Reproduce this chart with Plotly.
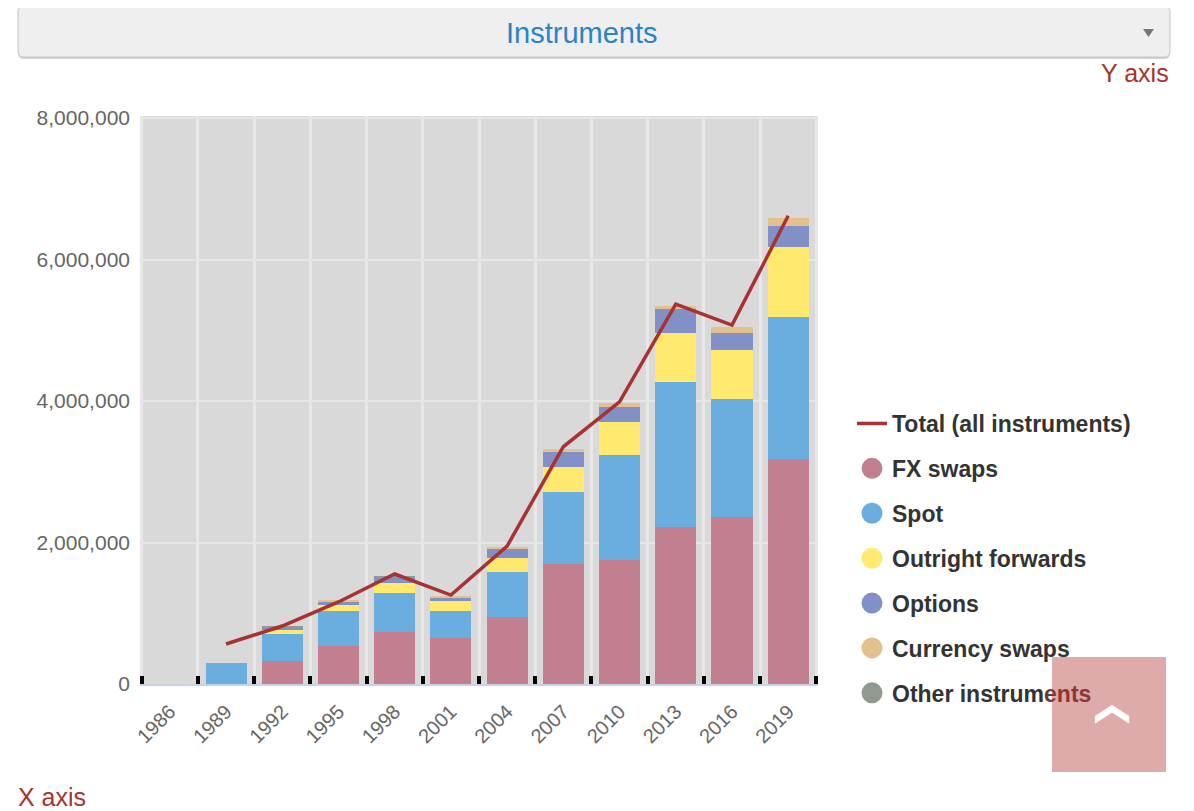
import plotly.graph_objects as go

years = ["1986", "1989", "1992", "1995", "1998", "2001", "2004", "2007", "2010", "2013", "2016", "2019"]
fx_swaps = [0, 0, 325000, 537000, 735000, 646000, 951000, 1696000, 1748000, 2215000, 2356000, 3176000]
spot = [0, 290000, 382000, 499000, 547000, 390000, 632000, 1013000, 1485000, 2058000, 1672000, 2007000]
outright_forwards = [0, 0, 56000, 81000, 141000, 137000, 193000, 362000, 466000, 693000, 689000, 989000]
options = [0, 0, 30000, 52000, 79000, 52000, 136000, 222000, 220000, 330000, 248000, 301000]
currency_swaps = [0, 0, 3000, 5000, 10000, 7000, 20000, 24000, 48000, 47000, 81000, 109000]
other_instruments = [0, 0, 30000, 0, 18000, 0, 0, 0, 0, 0, 0, 0]
total = [None, 565000, 820000, 1160000, 1555000, 1258000, 1950000, 3354000, 3990000, 5371000, 5074000, 6620000]
y_ticks = [0, 2000000, 4000000, 6000000, 8000000]

series = [
    ("FX swaps", fx_swaps, "#c27f8f"),
    ("Spot", spot, "#6aaee0"),
    ("Outright forwards", outright_forwards, "#ffe96e"),
    ("Options", options, "#8290c8"),
    ("Currency swaps", currency_swaps, "#e3c08c"),
    ("Other instruments", other_instruments, "#8f9a90"),
]
# legend labels (last one partly under the translucent scroll button)
legend_labels = {
    "Other instruments": "Other instrum<span style='color:#6e3434'>ents</span>",
}

FONT = "Liberation Sans, Arial, Helvetica, sans-serif"
OFF = 8  # page body margin
FW, FH = 1194 - OFF, 811 - OFF
L, R, T, B = 140 - OFF, 818 - OFF, 116 - OFF, 684 - OFF
W, H = R - L, B - T


def px(x):
    # x in screen pixels
    return (x - OFF - L) / W


def py(y):
    return (B - (y - OFF)) / H


def rrect(x0, y0, x1, y1, r):
    return (f"M {px(x0 + r)},{py(y0)} L {px(x1 - r)},{py(y0)} Q {px(x1)},{py(y0)} {px(x1)},{py(y0 + r)} "
            f"L {px(x1)},{py(y1 - r)} Q {px(x1)},{py(y1)} {px(x1 - r)},{py(y1)} "
            f"L {px(x0 + r)},{py(y1)} Q {px(x0)},{py(y1)} {px(x0)},{py(y1 - r)} "
            f"L {px(x0)},{py(y0 + r)} Q {px(x0)},{py(y0)} {px(x0 + r)},{py(y0)} Z")


fig = go.Figure()

for name, vals, color in series:
    fig.add_trace(go.Bar(x=years, y=vals, name=name, marker=dict(color=color, line=dict(width=0)),
                         showlegend=False))

fig.add_trace(go.Scatter(x=years, y=total, mode="lines", name="Total (all instruments)",
                         line=dict(color="#a83232", width=3.5), legendgroup="g0", legendrank=1))

for i, (name, vals, color) in enumerate(series):
    fig.add_trace(go.Scatter(x=[None], y=[None], mode="markers", name=legend_labels.get(name, name),
                             marker=dict(color=color, size=16, line=dict(color=color, width=5)),
                             legendgroup=f"g{i+1}", legendrank=i + 2))

shapes = [
    dict(type="path", xref="paper", yref="paper", path=rrect(18, 8, 1170, 59, 6),
         fillcolor="#d4d4d4", line=dict(width=0), layer="above"),
    dict(type="path", xref="paper", yref="paper", path=rrect(18, 6, 1170, 57, 6),
         fillcolor="#efefef", line=dict(color="#c4c4c4", width=1), layer="above"),
    dict(type="path", xref="paper", yref="paper",
         path=f"M {px(1143)},{py(29)} L {px(1154)},{py(29)} L {px(1148.5)},{py(37)} Z",
         fillcolor="#777777", line=dict(width=0), layer="above"),
]

annotations = [
    dict(text="Instruments", x=px(582), y=py(33), xref="paper", yref="paper", showarrow=False,
         xanchor="center", yanchor="middle", font=dict(family=FONT, size=29, color="#2b83c6")),
    dict(text="Y axis", x=px(1171), y=py(73), xref="paper", yref="paper", showarrow=False,
         xanchor="right", yanchor="middle", font=dict(family=FONT, size=25, color="#a8322d")),
    dict(text="X axis", x=px(16), y=py(797), xref="paper", yref="paper", showarrow=False,
         xanchor="left", yanchor="middle", font=dict(family=FONT, size=25, color="#a8322d")),
    dict(text="❯", x=px(1108.5), y=py(715), xref="paper", yref="paper", showarrow=False,
         xanchor="center", yanchor="middle", width=114, height=113, textangle=-90,
         bgcolor="rgba(181,58,58,0.43)", borderpad=0, valign="middle", align="center",
         font=dict(family="DejaVu Sans", size=34, color="white")),
]

fig.update_layout(
    width=FW, height=FH,
    margin=dict(l=L, r=FW - R, t=T, b=FH - B, autoexpand=False),
    paper_bgcolor="white",
    plot_bgcolor="#d9d9d9",
    barmode="stack",
    bargap=0.27,
    font=dict(family=FONT, color="#666666"),
    showlegend=True,
    legend=dict(x=px(852), xanchor="left", y=py(402), yanchor="top",
                font=dict(family=FONT, size=23, color="#333333", weight="bold"),
                tracegroupgap=12, bgcolor="rgba(0,0,0,0)", traceorder="grouped"),
    xaxis=dict(type="category", tickson="boundaries", ticks="inside", ticklen=8, tickwidth=4,
               tickcolor="black", showgrid=True, gridcolor="#e8e8e8", gridwidth=3,
               range=[-0.53, 11.53],
               tickangle=-45, tickfont=dict(family=FONT, size=20, color="#666666"),
               showline=True, linecolor="#c5d3ea", linewidth=2, ticklabelstandoff=6,
               automargin=False, fixedrange=True),
    yaxis=dict(range=[0, 8030000], tickvals=y_ticks, tickformat=",", showgrid=True,
               gridcolor="#e6e6e6", gridwidth=2, zeroline=False, showline=False,
               tickfont=dict(family=FONT, size=21, color="#666666"), ticklabelstandoff=9,
               automargin=False, fixedrange=True),
    shapes=shapes,
    annotations=annotations,
)

fig.write_html("out.html")
